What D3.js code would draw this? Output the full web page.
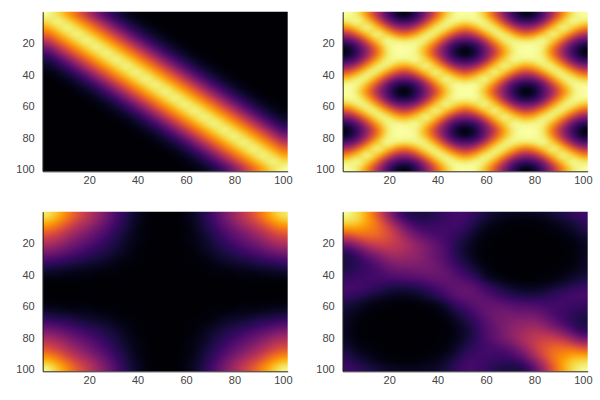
<!DOCTYPE html>
<html>
<head>
<meta charset="utf-8">
<script src="https://d3js.org/d3.v7.min.js"></script>
<style>
  body { margin: 0; background: #fff; }
  svg { display: block; }
  .tick text { font-family: "Liberation Sans", sans-serif; font-size: 11px; fill: #444; }
  .domain { stroke: #222; }
</style>
</head>
<body>
<svg width="600" height="400"></svg>
<script>
// Heat values, 0-100, one cell every 4 indices (2, 6, ... 98)
const bandValues = [
  [99,92,80,66,50,34,21,12,6,3,1,0,0,0,0,0,0,0,0,0,0,0,0,0,0],
  [92,99,92,80,66,50,34,21,12,6,3,1,0,0,0,0,0,0,0,0,0,0,0,0,0],
  [80,92,99,92,80,66,50,34,21,12,6,3,1,0,0,0,0,0,0,0,0,0,0,0,0],
  [66,80,92,99,92,80,66,50,34,21,12,6,3,1,0,0,0,0,0,0,0,0,0,0,0],
  [50,66,80,92,99,92,80,66,50,34,21,12,6,3,1,0,0,0,0,0,0,0,0,0,0],
  [34,50,66,80,92,99,92,80,66,50,34,21,12,6,3,1,0,0,0,0,0,0,0,0,0],
  [21,34,50,66,80,92,99,92,80,66,50,34,21,12,6,3,1,0,0,0,0,0,0,0,0],
  [12,21,34,50,66,80,92,99,92,80,66,50,34,21,12,6,3,1,0,0,0,0,0,0,0],
  [6,12,21,34,50,66,80,92,99,92,80,66,50,34,21,12,6,3,1,0,0,0,0,0,0],
  [3,6,12,21,34,50,66,80,92,99,92,80,66,50,34,21,12,6,3,1,0,0,0,0,0],
  [1,3,6,12,21,34,50,66,80,92,99,92,80,66,50,34,21,12,6,3,1,0,0,0,0],
  [0,1,3,6,12,21,34,50,66,80,92,99,92,80,66,50,34,21,12,6,3,1,0,0,0],
  [0,0,1,3,6,12,21,34,50,66,80,92,99,92,80,66,50,34,21,12,6,3,1,0,0],
  [0,0,0,1,3,6,12,21,34,50,66,80,92,99,92,80,66,50,34,21,12,6,3,1,0],
  [0,0,0,0,1,3,6,12,21,34,50,66,80,92,99,92,80,66,50,34,21,12,6,3,1],
  [0,0,0,0,0,1,3,6,12,21,34,50,66,80,92,99,92,80,66,50,34,21,12,6,3],
  [0,0,0,0,0,0,1,3,6,12,21,34,50,66,80,92,99,92,80,66,50,34,21,12,6],
  [0,0,0,0,0,0,0,1,3,6,12,21,34,50,66,80,92,99,92,80,66,50,34,21,12],
  [0,0,0,0,0,0,0,0,1,3,6,12,21,34,50,66,80,92,99,92,80,66,50,34,21],
  [0,0,0,0,0,0,0,0,0,1,3,6,12,21,34,50,66,80,92,99,92,80,66,50,34],
  [0,0,0,0,0,0,0,0,0,0,1,3,6,12,21,34,50,66,80,92,99,92,80,66,50],
  [0,0,0,0,0,0,0,0,0,0,0,1,3,6,12,21,34,50,66,80,92,99,92,80,66],
  [0,0,0,0,0,0,0,0,0,0,0,0,1,3,6,12,21,34,50,66,80,92,99,92,80],
  [0,0,0,0,0,0,0,0,0,0,0,0,0,1,3,6,12,21,34,50,66,80,92,99,92],
  [0,0,0,0,0,0,0,0,0,0,0,0,0,0,1,3,6,12,21,34,50,66,80,92,99]
];

const latticeValues = [
  [100,95,75,47,24,6,2,15,35,61,87,99,100,99,87,61,35,15,2,6,24,47,75,95,100],
  [95,100,90,66,35,21,18,26,50,79,96,98,94,98,96,79,50,26,18,21,35,66,90,100,95],
  [75,90,100,88,64,43,39,52,77,95,96,82,72,82,96,95,77,52,39,43,64,88,100,90,75],
  [47,66,88,100,89,72,66,80,95,95,77,55,44,55,77,95,95,80,66,72,89,100,88,66,47],
  [24,35,64,89,100,96,94,97,96,78,49,27,24,27,49,78,96,97,94,96,100,89,64,35,24],
  [6,21,43,72,96,100,100,98,84,58,30,12,4,12,30,58,84,98,100,100,96,72,43,21,6],
  [2,18,39,66,94,100,100,97,80,51,29,8,0,8,29,51,80,97,100,100,94,66,39,18,2],
  [15,26,52,80,97,98,97,100,90,68,36,19,13,19,36,68,90,100,97,98,97,80,52,26,15],
  [35,50,77,95,96,84,80,90,100,88,63,39,34,39,63,88,100,90,80,84,96,95,77,50,35],
  [61,79,95,95,78,58,51,68,88,100,88,70,57,70,88,100,88,68,51,58,78,95,95,79,61],
  [87,96,96,77,49,30,29,36,63,88,100,92,85,92,100,88,63,36,29,30,49,77,96,96,87],
  [99,98,82,55,27,12,8,19,39,70,92,100,99,100,92,70,39,19,8,12,27,55,82,98,99],
  [100,94,72,44,24,4,0,13,34,57,85,99,100,99,85,57,34,13,0,4,24,44,72,94,100],
  [99,98,82,55,27,12,8,19,39,70,92,100,99,100,92,70,39,19,8,12,27,55,82,98,99],
  [87,96,96,77,49,30,29,36,63,88,100,92,85,92,100,88,63,36,29,30,49,77,96,96,87],
  [61,79,95,95,78,58,51,68,88,100,88,70,57,70,88,100,88,68,51,58,78,95,95,79,61],
  [35,50,77,95,96,84,80,90,100,88,63,39,34,39,63,88,100,90,80,84,96,95,77,50,35],
  [15,26,52,80,97,98,97,100,90,68,36,19,13,19,36,68,90,100,97,98,97,80,52,26,15],
  [2,18,39,66,94,100,100,97,80,51,29,8,0,8,29,51,80,97,100,100,94,66,39,18,2],
  [6,21,43,72,96,100,100,98,84,58,30,12,4,12,30,58,84,98,100,100,96,72,43,21,6],
  [24,35,64,89,100,96,94,97,96,78,49,27,24,27,49,78,96,97,94,96,100,89,64,35,24],
  [47,66,88,100,89,72,66,80,95,95,77,55,44,55,77,95,95,80,66,72,89,100,88,66,47],
  [75,90,100,88,64,43,39,52,77,95,96,82,72,82,96,95,77,52,39,43,64,88,100,90,75],
  [95,100,90,66,35,21,18,26,50,79,96,98,94,98,96,79,50,26,18,21,35,66,90,100,95],
  [100,95,75,47,24,6,2,15,35,61,87,99,100,99,87,61,35,15,2,6,24,47,75,95,100]
];

const cornerValues = [
  [94,85,73,61,51,42,32,22,14,7,3,0,0,0,3,7,14,22,32,42,51,61,73,85,94],
  [85,77,66,55,47,38,29,20,12,6,3,0,0,0,3,6,12,20,29,38,47,55,66,77,85],
  [73,66,56,47,40,32,25,17,11,5,2,0,0,0,2,5,11,17,25,32,40,47,56,66,73],
  [61,55,47,40,33,27,21,14,9,4,2,0,0,0,2,4,9,14,21,27,33,40,47,55,61],
  [51,47,40,33,28,23,17,12,7,4,2,0,0,0,2,4,7,12,17,23,28,33,40,47,51],
  [42,38,32,27,23,18,14,10,6,3,1,0,0,0,1,3,6,10,14,18,23,27,32,38,42],
  [32,29,25,21,17,14,11,8,5,2,1,0,0,0,1,2,5,8,11,14,17,21,25,29,32],
  [22,20,17,14,12,10,8,5,3,2,1,0,0,0,1,2,3,5,8,10,12,14,17,20,22],
  [14,12,11,9,7,6,5,3,2,1,0,0,0,0,0,1,2,3,5,6,7,9,11,12,14],
  [7,6,5,4,4,3,2,2,1,0,0,0,0,0,0,0,1,2,2,3,4,4,5,6,7],
  [3,3,2,2,2,1,1,1,0,0,0,0,0,0,0,0,0,1,1,1,2,2,2,3,3],
  [0,0,0,0,0,0,0,0,0,0,0,0,0,0,0,0,0,0,0,0,0,0,0,0,0],
  [0,0,0,0,0,0,0,0,0,0,0,0,0,0,0,0,0,0,0,0,0,0,0,0,0],
  [0,0,0,0,0,0,0,0,0,0,0,0,0,0,0,0,0,0,0,0,0,0,0,0,0],
  [3,3,2,2,2,1,1,1,0,0,0,0,0,0,0,0,0,1,1,1,2,2,2,3,3],
  [7,6,5,4,4,3,2,2,1,0,0,0,0,0,0,0,1,2,2,3,4,4,5,6,7],
  [14,12,11,9,7,6,5,3,2,1,0,0,0,0,0,1,2,3,5,6,7,9,11,12,14],
  [22,20,17,14,12,10,8,5,3,2,1,0,0,0,1,2,3,5,8,10,12,14,17,20,22],
  [32,29,25,21,17,14,11,8,5,2,1,0,0,0,1,2,5,8,11,14,17,21,25,29,32],
  [42,38,32,27,23,18,14,10,6,3,1,0,0,0,1,3,6,10,14,18,23,27,32,38,42],
  [51,47,40,33,28,23,17,12,7,4,2,0,0,0,2,4,7,12,17,23,28,33,40,47,51],
  [61,55,47,40,33,27,21,14,9,4,2,0,0,0,2,4,9,14,21,27,33,40,47,55,61],
  [73,66,56,47,40,32,25,17,11,5,2,0,0,0,2,5,11,17,25,32,40,47,56,66,73],
  [86,78,67,56,48,39,30,20,12,6,3,0,0,0,3,6,12,20,30,39,48,56,67,78,86],
  [97,87,75,63,53,43,33,23,14,7,3,0,0,0,3,7,14,23,33,43,53,63,75,87,97]
];

const basinValues = [
  [98,92,80,62,42,25,14,11,11,14,18,20,20,16,11,8,6,5,5,6,7,10,13,16,19],
  [92,90,80,68,50,34,22,16,15,16,19,21,19,13,8,5,3,2,2,2,3,5,8,11,16],
  [80,80,76,69,58,44,31,23,19,19,20,19,16,10,5,3,2,1,1,1,2,3,5,8,13],
  [62,68,69,68,60,50,38,29,24,21,20,17,13,7,3,2,1,0,0,0,1,2,3,5,10],
  [42,50,58,60,58,52,44,36,30,25,21,15,10,5,2,1,0,0,0,0,0,1,2,3,7],
  [25,34,44,50,52,50,46,40,34,28,22,14,8,4,1,1,0,0,0,0,0,0,1,2,5],
  [14,22,31,38,44,46,43,39,34,28,23,14,8,4,1,0,0,0,0,0,0,0,1,2,5],
  [11,16,23,29,36,40,39,38,34,29,24,16,10,5,2,1,0,0,0,0,0,0,1,2,6],
  [11,15,19,24,30,34,34,34,33,31,26,19,13,8,3,1,0,0,0,0,0,1,2,3,6],
  [14,16,19,21,25,28,28,29,31,30,28,23,17,12,5,3,1,0,0,0,1,2,3,5,8],
  [18,19,20,20,21,22,23,24,26,28,28,26,22,18,9,5,3,2,1,1,2,3,5,8,11],
  [20,21,19,17,15,14,14,16,19,23,26,27,27,24,18,12,8,5,4,4,5,7,10,13,16],
  [20,19,16,13,10,8,8,10,13,17,22,27,27,27,22,17,13,10,8,8,10,13,16,19,20],
  [16,13,10,7,5,4,4,5,8,12,18,24,27,27,26,23,19,16,14,14,15,17,19,21,20],
  [11,8,5,3,2,1,1,2,3,5,9,18,22,26,28,28,26,24,23,22,21,20,20,19,18],
  [8,5,3,2,1,0,0,0,1,3,5,12,17,23,28,30,31,29,28,28,25,21,19,16,14],
  [6,3,2,1,0,0,0,0,0,1,3,8,13,19,26,31,33,34,34,34,30,24,19,15,11],
  [6,2,1,0,0,0,0,0,0,1,2,5,10,16,24,29,34,38,39,40,36,29,23,16,11],
  [5,2,1,0,0,0,0,0,0,0,1,4,8,14,23,28,34,39,43,46,44,38,31,22,14],
  [5,2,1,0,0,0,0,0,0,1,1,4,8,14,22,28,34,40,46,50,52,50,44,34,25],
  [7,3,2,1,0,0,0,0,0,1,2,5,10,15,21,25,30,36,44,52,58,60,58,50,42],
  [10,5,3,2,1,0,0,0,1,2,3,7,13,17,20,21,24,29,38,50,60,68,69,68,62],
  [13,8,5,3,2,1,1,1,2,3,5,10,16,19,20,19,19,23,31,44,58,69,76,80,80],
  [16,11,8,5,3,2,2,2,3,5,8,13,19,21,19,16,15,16,22,34,50,68,80,90,92],
  [19,16,13,10,7,6,5,5,6,7,11,16,20,20,18,14,11,11,14,25,42,62,80,92,98]
];

const tickValues = [20, 40, 60, 80, 100];

const panels = [
  { values: bandValues, left: 42.7, top: 11.7 },
  { values: latticeValues, left: 342.7, top: 11.7 },
  { values: cornerValues, left: 42.7, top: 211.7 },
  { values: basinValues, left: 342.7, top: 211.7 }
];

const panelWidth = 245;
const panelHeight = 159.6;

const svg = d3.select("svg");
const color = d3.scaleSequential(d3.interpolateInferno).domain([0, 100]);
const thresholds = d3.range(0, 100, 1);

// Takes the beading off the coarse grid
svg.append("filter")
  .attr("id", "soften")
  .append("feGaussianBlur")
  .attr("stdDeviation", "3 2")
  .attr("color-interpolation-filters", "sRGB");

// d3.contours cuts the corners at the grid border, so repeat the edge cells and clip
const padGrid = values => {
  const rows = values.map(row => [row[0], ...row, row[row.length - 1]]);
  return [rows[0], ...rows, rows[rows.length - 1]];
};

const drawPanel = ({ values, left, top }, i) => {
  const rows = values.length;
  const cols = values[0].length;
  const padded = padGrid(values);

  // Grid position to pixels for the heat shapes
  const gridX = d3.scaleLinear().domain([1, cols + 1]).range([left, left + panelWidth]);
  const gridY = d3.scaleLinear().domain([1, rows + 1]).range([top, top + panelHeight]);
  const path = d3.geoPath(d3.geoTransform({
    point(x, y) { this.stream.point(gridX(x), gridY(y)); }
  }));

  svg.append("clipPath")
    .attr("id", `clip-${i}`)
    .append("rect")
    .attr("x", left)
    .attr("y", top)
    .attr("width", panelWidth)
    .attr("height", panelHeight);

  const contours = d3.contours()
    .size([cols + 2, rows + 2])
    .thresholds(thresholds)(padded.flat());

  svg.append("g")
    .attr("clip-path", `url(#clip-${i})`)
    .append("g")
    .attr("filter", "url(#soften)")
    .selectAll("path")
    .data(contours)
    .enter()
    .append("path")
    .attr("d", path)
    .attr("fill", d => color(d.value + 0.5));

  const x = d3.scaleLinear().domain([0.8, 102]).range([left, left + panelWidth]);
  const y = d3.scaleLinear().domain([0, 101.5]).range([top, top + panelHeight]);

  svg.append("g")
    .attr("transform", `translate(0, ${top + panelHeight})`)
    .call(d3.axisBottom(x).tickValues(tickValues).tickSize(0).tickPadding(5));

  svg.append("g")
    .attr("transform", `translate(${left}, 0)`)
    .call(d3.axisLeft(y).tickValues(tickValues).tickSize(0).tickPadding(8));
};

panels.forEach(drawPanel);
</script>
</body>
</html>
